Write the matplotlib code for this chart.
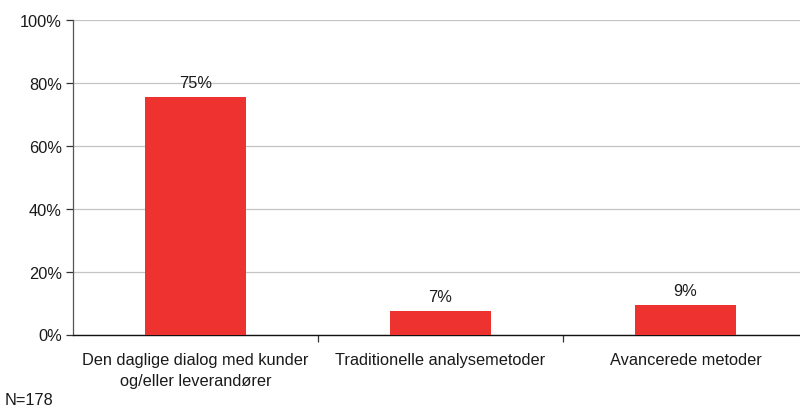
import matplotlib
matplotlib.use("Agg")
import matplotlib.pyplot as plt
from matplotlib.ticker import FixedLocator, FuncFormatter, NullFormatter

plt.rcParams['font.family'] = ['Liberation Sans', 'DejaVu Sans']

categories = ["Den daglige dialog med kunder\nog/eller leverandører",
              "Traditionelle analysemetoder",
              "Avancerede metoder"]
shares = [75.4, 7.4, 9.4]
y_ticks = [0, 20, 40, 60, 80, 100]
note = "N=178"

fig = plt.figure(figsize=(8, 4.1), dpi=100)
W, H = 800, 410
left, right, top, bottom = 73, 808, 20.7, 335.5
ax = fig.add_axes([left / W, 1 - bottom / H, (right - left) / W, (bottom - top) / H])

x = list(range(len(categories)))
ax.bar(x, shares, width=0.41, color="#EE3230", zorder=3)
for xi, v in zip(x, shares):
    ax.annotate(f"{v:.0f}%", (xi, v), xytext=(0, 5), textcoords="offset points",
                ha="center", va="bottom", fontsize=11.8, color="#1a1a1a")

ax.set_xlim(-0.5, len(categories) - 0.5)
ax.set_ylim(0, 100)
ax.yaxis.set_major_locator(FixedLocator(y_ticks))
ax.yaxis.set_major_formatter(FuncFormatter(lambda v, p: f"{v:.0f}%"))
ax.grid(axis="y", color="#c4c4c4", linewidth=0.9, zorder=0)

# category labels centred under bars, tick marks on the boundaries
ax.set_xticks(x)
ax.set_xticklabels(categories, fontsize=11.8, color="#1a1a1a", linespacing=1.55)
ax.tick_params(axis="x", which="major", length=0, pad=12.5)
ax.set_xticks([0.5, 1.5, 2.5], minor=True)
ax.xaxis.set_minor_formatter(NullFormatter())
ax.tick_params(axis="x", which="minor", length=5, color="#333333", width=0.9)
ax.tick_params(axis="y", length=5, color="#333333", width=0.9, labelsize=11.8,
               labelcolor="#1a1a1a", pad=3)

for s in ("top", "right"):
    ax.spines[s].set_visible(False)
ax.spines["left"].set_color("#555555")
ax.spines["left"].set_linewidth(0.9)
ax.spines["bottom"].set_color("#111111")
ax.spines["bottom"].set_linewidth(1.0)

fig.text(5 / W, 2 / H, note, fontsize=11.8, color="#1a1a1a", va="bottom", ha="left")

fig.savefig("out.png", dpi=100)
